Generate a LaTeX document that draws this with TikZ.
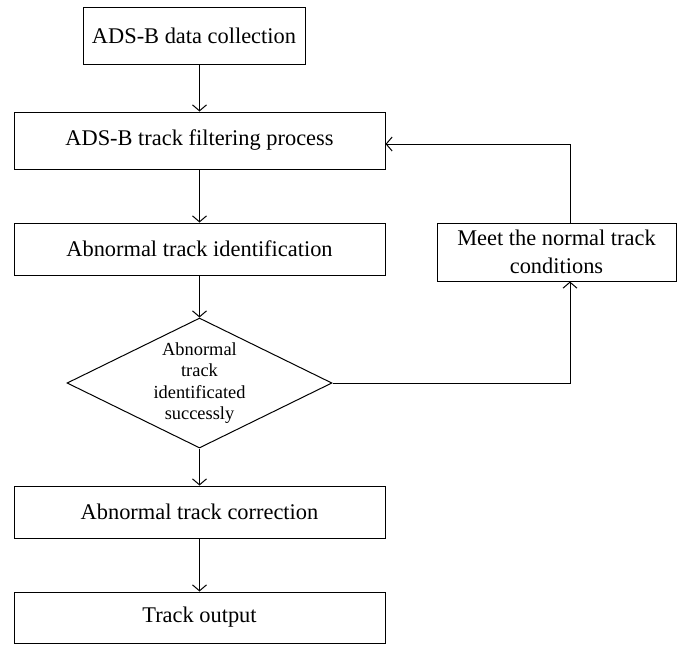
\documentclass[tikz,border=0pt]{standalone}
\usepackage{fontspec}
\setmainfont{Liberation Serif}
\usetikzlibrary{arrows.meta,positioning,calc,shapes.geometric}
\tikzset{
  fcbox/.style={draw, rectangle, line width=0.5pt, inner sep=2pt, align=center, font=\fontsize{11.2}{13.7}\selectfont},
  fcdec/.style={draw, diamond, aspect=2.04, line width=0.5pt, inner sep=0pt, align=center, font=\fontsize{9.2}{10.8}\selectfont},
  fcarrow/.style={-{Straight Barb[length=3pt,width=7pt]}, line width=0.5pt},
  fcline/.style={line width=0.5pt},
}

\begin{document}
\begin{tikzpicture}[x=0.5pt,y=-0.5pt]
  \useasboundingbox (0,0) rectangle (684,645);

  \node[fcbox, minimum width=111pt, minimum height=28.5pt] (collect) at (194,35.5)
    {ADS-B data collection};
  \node[fcbox, minimum width=185.5pt, minimum height=28.5pt] (filter) at (199.5,140.5)
    {ADS-B track filtering process};
  \node[fcbox, minimum width=185.5pt, minimum height=26pt] (ident) at (199.5,249)
    {Abnormal track identification};
  \node[fcdec, minimum width=132.5pt, minimum height=65pt] (check) at (199.5,383)
    {Abnormal\\track\\identificated\\successly};
  \node[fcbox, minimum width=185.5pt, minimum height=26pt] (correct) at (199.5,512)
    {Abnormal track correction};
  \node[fcbox, minimum width=185.5pt, minimum height=25.5pt] (output) at (199.5,617.5)
    {Track output};
  \node[fcbox, minimum width=119.5pt, minimum height=29pt] (normal) at (556.5,252)
    {Meet the normal track\\conditions};

  \coordinate (back) at (570,144);
  \coordinate (turn) at (570,383);

  \draw[fcarrow] (collect.south -| filter.north) -- (filter.north);
  \draw[fcarrow] (filter.south) -- (ident.north);
  \draw[fcarrow] (ident.south) -- (check.north);
  \draw[fcarrow] (check.south) -- (correct.north);
  \draw[fcarrow] (correct.south) -- (output.north);
  \draw[fcarrow] (check.east) -- (turn) -- (normal.south -| turn);
  \draw[fcarrow] (normal.north -| back) -- (back) -- (filter.east |- back);
\end{tikzpicture}
\end{document}
